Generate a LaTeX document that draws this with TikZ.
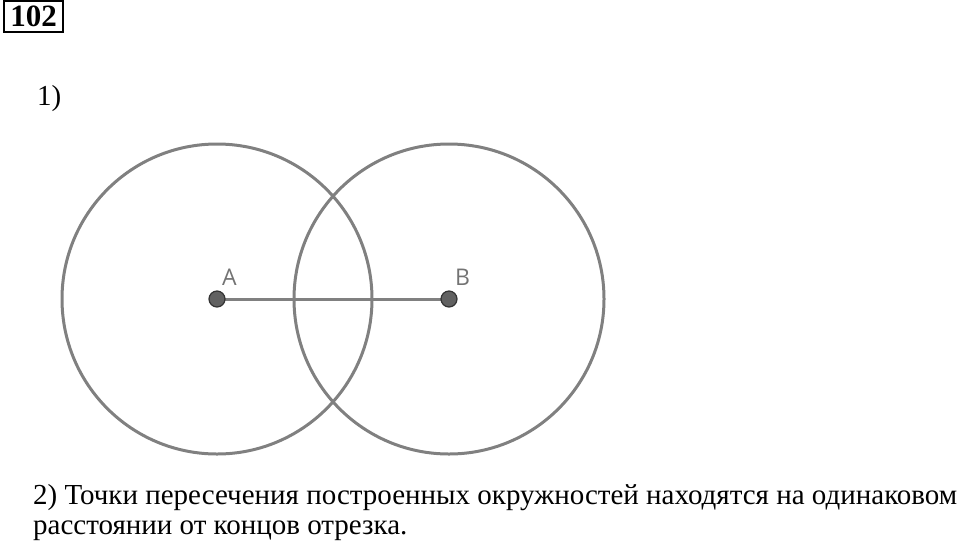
\documentclass[tikz,border=0pt]{standalone}
\usepackage{fontspec}
\setmainfont{Liberation Serif}
\newfontfamily\labfont{Open Sans}
\begin{document}
\begin{tikzpicture}[x=1pt,y=-1pt,
  circ/.style={draw=black!50, line width=3pt},
  seg/.style={draw=black!50, line width=3pt},
  pt/.style={circle, fill=black!62, draw=black!80, line width=1.2pt, minimum size=16pt, inner sep=0pt},
  lab/.style={font=\labfont\fontsize{23}{27}\selectfont, text=black!55, anchor=base west, inner sep=0pt},
  txt/.style={font=\fontsize{29}{31}\selectfont, anchor=base west, inner sep=0pt}]
\useasboundingbox (0,0) rectangle (960,547);
\node[draw, line width=2.5pt, minimum width=59pt, minimum height=31pt, inner sep=0pt, font=\bfseries\fontsize{31}{31}\selectfont] (num) at (33.5,16.5) {102};
\node[txt] (one) at (37,105) {1)};
\coordinate (A) at (217,299);
\coordinate (B) at (449,299);
\draw[circ] (A) circle[radius=155pt];
\draw[circ] (B) circle[radius=155pt];
\draw[seg] (A) -- (B);
\node[pt] (pA) at (A) {};
\node[pt] (pB) at (B) {};
\node[lab] (lA) at (222,285) {A};
\node[lab] (lB) at (455,285) {B};
\node[txt] (two) at (33,504) {2) Точки пересечения построенных окружностей находятся на одинаковом};
\node[txt] (three) at (33,534) {расстоянии от концов отрезка.};
\end{tikzpicture}
\end{document}
